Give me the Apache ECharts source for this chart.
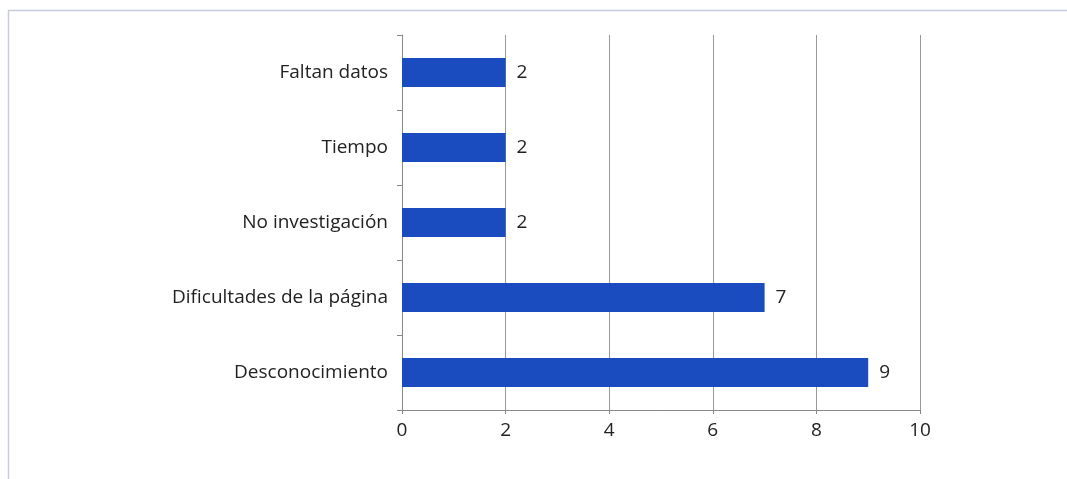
<!DOCTYPE html>
<html>
<head>
<meta charset="utf-8">
<script src="https://cdn.jsdelivr.net/npm/echarts@6/dist/echarts.min.js"></script>
<style>
  html, body { margin: 0; padding: 0; background: #fff; }
  #chart { width: 1067px; height: 479px; }
</style>
</head>
<body>
<div id="chart"></div>
<script>
  var categories = ['Desconocimiento', 'Dificultades de la página', 'No investigación', 'Tiempo', 'Faltan datos'];
  var values = [9, 7, 2, 2, 2];
  var xTicks = [0, 2, 4, 6, 8, 10];

  var chart = echarts.init(document.getElementById('chart'));
  var font = 'Open Sans';
  chart.setOption({
    animation: false,
    graphic: [{
      type: 'rect',
      shape: { x: 8.5, y: 10.5, width: 1080, height: 500 },
      style: { fill: 'none', stroke: '#c6cdda', lineWidth: 1.5 },
      silent: true
    }],
    grid: { left: 402, right: 147, top: 35, bottom: 69 },
    xAxis: {
      type: 'value',
      min: xTicks[0],
      max: xTicks[xTicks.length - 1],
      interval: 2,
      axisLine: { show: true, lineStyle: { color: '#888', width: 1 } },
      axisTick: { show: true, length: 4, lineStyle: { color: '#888' } },
      axisLabel: { color: '#222', fontFamily: font, fontSize: 19, margin: 11 },
      splitLine: { show: true, lineStyle: { color: '#999', width: 1 } }
    },
    yAxis: {
      type: 'category',
      data: categories,
      axisLine: { show: true, lineStyle: { color: '#888', width: 1 } },
      axisTick: { show: true, length: 5, inside: false, lineStyle: { color: '#888' } },
      axisLabel: { color: '#222', fontFamily: font, fontSize: 19, margin: 14 }
    },
    series: [{
      type: 'bar',
      data: values,
      barWidth: 29,
      itemStyle: { color: '#1a4cc0' },
      label: {
        show: true,
        position: 'right',
        distance: 11,
        color: '#222',
        fontFamily: font,
        fontSize: 19
      }
    }]
  });
</script>
</body>
</html>
